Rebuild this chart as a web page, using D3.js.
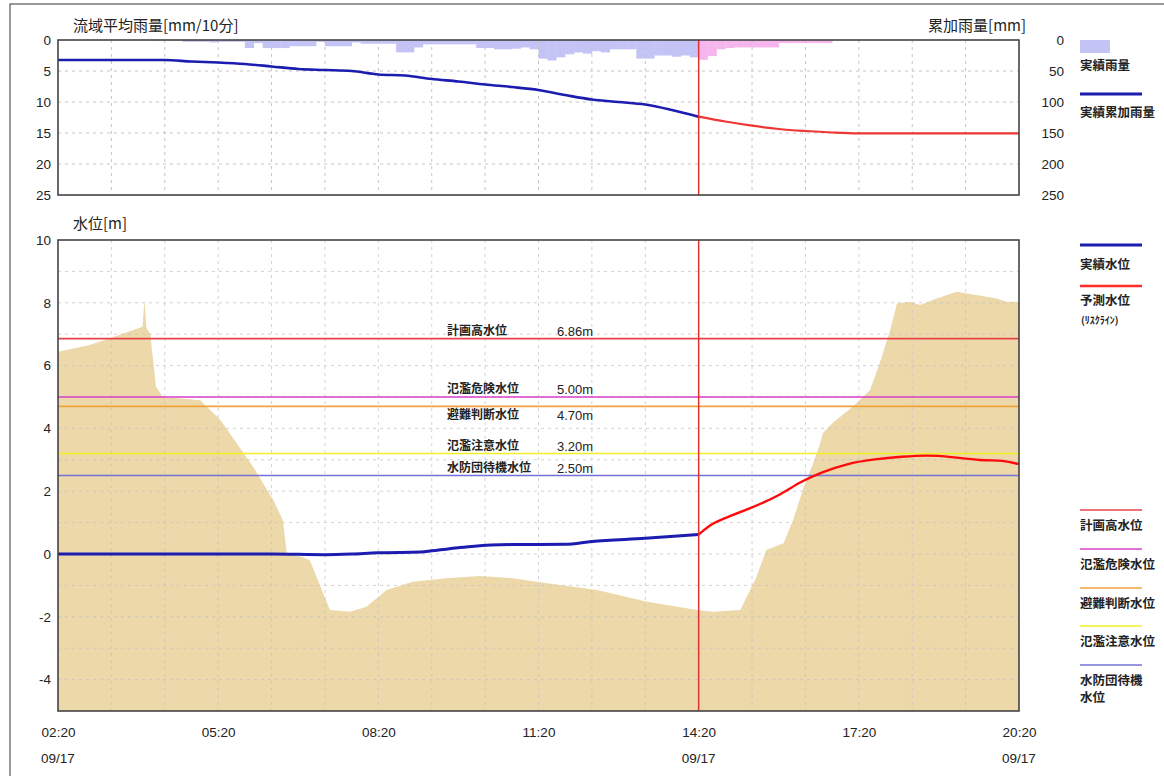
<!DOCTYPE html>
<html><head><meta charset="utf-8">
<script src="https://cdn.jsdelivr.net/npm/d3@7"></script>
<style>
body{margin:0;background:#fff;}
svg{display:block;}
</style></head>
<body>
<svg id="c" width="1164" height="776"></svg>
<script>
// ---- data ----
const timeLabels = ["02:20","05:20","08:20","11:20","14:20","17:20","20:20"];
const dateLabels = ["09/17","","","","09/17","","09/17"];
const labelHours = [0,3,6,9,12,15,18];
const nowHour = 12; // 14:20
// 10-minute basin average rainfall (mm/10min), observed 02:20-14:20
const rainObs = [0,0,0,0,0,0,0,0,0,0,0,0.1,0.1,0.1,
  0.3,0.3,0.3,0.4,0.3,0.3,0.3,1.3,0.5,1.3,1.3,1.3,1.0,1.0,1.0,0.3,
  1.0,1.0,1.0,0.4,0.6,0.6,0.6,0.6,2.0,2.0,1.2,0.7,0.7,0.7,0.7,0.7,0.7,
  1.3,1.3,1.5,1.5,1.4,1.2,1.5,3.0,3.3,2.8,2.3,2.0,2.2,1.8,2.0,
  1.5,1.5,1.5,3.0,3.0,2.5,2.5,2.7,2.5,2.8];
// forecast 14:20-20:20
const rainFcst = [3.2,2.6,1.5,1.3,1.2,1.2,1.2,1.2,1.2,0.5,0.5,0.5,0.5,0.5,0.5,
  0,0,0,0,0,0,0,0,0,0,0,0,0,0,0,0,0,0,0,0,0];
// cumulative rainfall (mm) every 30 minutes
const cumHours = [0,0.5,1,1.5,2,2.5,3,3.5,4,4.5,5,5.5,6,6.5,7,7.5,8,8.5,9,9.5,10,10.5,11,11.5,12,
  12.5,13,13.5,14,14.5,15,15.5,16,16.5,17,17.5,18];
const cumRain = [32.3,32.3,32.3,32.3,32.3,34.7,36.3,38.7,42.7,46.8,48.4,50,55.6,57.3,62.9,66.9,71.8,75.8,80.6,88.7,96,100,104,112.9,123.7,
  131.5,138.2,143.5,146.8,149.2,150.5,150.5,150.5,150.5,150.5,150.5,150.5];
// observed water level (m)
const obsHours = [0,1,2,3,4,5,5.5,6,6.8,7,7.5,7.8,8.5,9.5,10,11,12];
const obsLevel = [0,0,0,0,0,-0.02,0,0.04,0.06,0.1,0.2,0.25,0.3,0.31,0.4,0.5,0.62];
// forecast water level (m)
const fcHours = [12,12.25,12.5,13,13.5,13.9,14.3,14.8,15.3,15.8,16.3,16.7,17.3,17.7,18];
const fcLevel = [0.62,0.98,1.15,1.48,1.85,2.3,2.6,2.89,3.02,3.1,3.15,3.1,2.97,2.99,2.86];
// river cross-section (distance 0-100, elevation m)
const secDist = [0,3.3,5.4,8.8,9.0,9.2,9.6,10.2,10.9,14.8,16.9,20.3,22.4,23.4,23.8,25.2,26.2,28.3,30.4,32.1,34.2,36.9,40.4,43.9,47.3,50.9,56.1,61.3,66.5,68.2,71.0,72.7,73.7,75.5,76.5,77.5,78.6,79.3,79.6,80.6,82.7,84.5,85.5,86.6,87.3,88.7,89.7,91.0,93.5,94.6,97.7,98.7,100];
const secElev = [6.44,6.66,6.87,7.24,8.1,7.2,7.0,5.33,5.0,4.9,4.27,2.78,1.72,1.08,0.03,-0.08,-0.2,-1.78,-1.84,-1.68,-1.15,-0.88,-0.77,-0.7,-0.77,-0.93,-1.15,-1.52,-1.78,-1.84,-1.78,-0.72,0.13,0.34,1.08,2.04,2.9,3.52,3.85,4.17,4.69,5.22,6.07,7.13,7.98,8.03,7.93,8.09,8.35,8.3,8.14,8.03,8.03];
// reference water levels
const refNames = ["計画高水位","氾濫危険水位","避難判断水位","氾濫注意水位","水防団待機水位"];
const refValues = [6.86,5.00,4.70,3.20,2.50];
const refColors = ["#e8434b","#d940c8","#f0a23c","#f2f020","#7272d8"];
const refLegend = [["計画高水位"],["氾濫危険水位"],["避難判断水位"],["氾濫注意水位"],["水防団待機","水位"]];

// ---- drawing ----
const svg = d3.select("#c");
const L = 58, R = 1019;
const x = d3.scaleLinear().domain([0,18]).range([L,R]);
const yRain = d3.scaleLinear().domain([0,25]).range([40,195]);
const yCum = d3.scaleLinear().domain([0,250]).range([40,195]);
const yLvl = d3.scaleLinear().domain([-5,10]).range([711,240]);
const xSec = d3.scaleLinear().domain([0,100]).range([L,R]);
const numFont = "'Liberation Sans', Arial, sans-serif";
const jpFont = "'Noto Sans CJK JP', sans-serif";
const gridCol = "#c4c4c4";
const plainNum = d => String(d);

svg.append("rect").attr("width",1164).attr("height",776).attr("fill","#fff");
svg.append("rect").attr("x",10).attr("y",4).attr("width",1170).attr("height",790)
  .attr("fill","none").attr("stroke","#555").attr("stroke-width",1.2);

const defs = svg.append("defs");
defs.append("clipPath").attr("id","clipTop").append("rect").attr("x",L).attr("y",40).attr("width",R-L).attr("height",155);
defs.append("clipPath").attr("id","clipBot").append("rect").attr("x",L).attr("y",240).attr("width",R-L).attr("height",471);

// ===== top chart =====
const gTop = svg.append("g");
const gRain = gTop.append("g").attr("clip-path","url(#clipTop)");
gRain.selectAll("rect.obs").data(rainObs).join("rect")
  .attr("x",(d,i)=>x(i/6)).attr("y",yRain(0))
  .attr("width",(d,i)=>x((i+1)/6)-x(i/6)+0.3).attr("height",d=>yRain(d)-yRain(0))
  .attr("fill","#c3c3f5");
gRain.selectAll("rect.fc").data(rainFcst).join("rect")
  .attr("x",(d,i)=>x(nowHour+i/6)).attr("y",yRain(0))
  .attr("width",(d,i)=>x(nowHour+(i+1)/6)-x(nowHour+i/6)+0.3).attr("height",d=>yRain(d)-yRain(0))
  .attr("fill","#f5b6ee");
const gGridT = gTop.append("g").attr("stroke",gridCol).attr("stroke-dasharray","3,4").attr("stroke-width",1);
d3.range(1,18).forEach(h=>gGridT.append("line").attr("x1",x(h)).attr("x2",x(h)).attr("y1",40).attr("y2",195));
[5,10,15,20].forEach(v=>gGridT.append("line").attr("x1",L).attr("x2",R).attr("y1",yRain(v)).attr("y2",yRain(v)));
const cumPts = cumHours.map((h,i)=>[h,cumRain[i]]);
const cumLine = d3.line().x(d=>x(d[0])).y(d=>yCum(d[1])).curve(d3.curveMonotoneX);
gTop.append("path").datum(cumPts.filter(d=>d[0]<=nowHour)).attr("d",cumLine)
  .attr("fill","none").attr("stroke","#1c1cb0").attr("stroke-width",2.6);
gTop.append("path").datum(cumPts.filter(d=>d[0]>=nowHour)).attr("d",cumLine)
  .attr("fill","none").attr("stroke","#f03535").attr("stroke-width",2.2);
gTop.append("line").attr("x1",x(nowHour)).attr("x2",x(nowHour)).attr("y1",40).attr("y2",195)
  .attr("stroke","#e03030").attr("stroke-width",1.5);
gTop.append("rect").attr("x",L).attr("y",40).attr("width",R-L).attr("height",155)
  .attr("fill","none").attr("stroke","#444").attr("stroke-width",1.6);
const axL = gTop.append("g").attr("transform",`translate(${L},0)`)
  .call(d3.axisLeft(yRain).tickValues([0,5,10,15,20,25]).tickSize(0).tickPadding(7).tickFormat(plainNum));
const axR = gTop.append("g").attr("transform",`translate(1064,0)`)
  .call(d3.axisLeft(yCum).tickValues([0,50,100,150,200,250]).tickSize(0).tickPadding(0).tickFormat(plainNum));
[axL,axR].forEach(a=>{a.select(".domain").remove();
  a.selectAll("text").attr("font-family",numFont).attr("font-size",13.5).attr("fill","#222");});
gTop.append("text").attr("x",73).attr("y",31).text("流域平均雨量[mm/10分]")
  .attr("font-family",jpFont).attr("font-size",15).attr("fill","#222");
gTop.append("text").attr("x",1026).attr("y",31).attr("text-anchor","end").text("累加雨量[mm]")
  .attr("font-family",jpFont).attr("font-size",15).attr("fill","#222");

// ===== bottom chart =====
const gBot = svg.append("g");
const secPts = secDist.map((d,i)=>[d,secElev[i]]);
gBot.append("path").datum(secPts).attr("clip-path","url(#clipBot)")
  .attr("d",d3.area().x(d=>xSec(d[0])).y0(yLvl(-5)).y1(d=>yLvl(d[1])))
  .attr("fill","#ecd8a9");
const gGridB = gBot.append("g").attr("stroke",gridCol).attr("stroke-dasharray","3,4").attr("stroke-width",1).attr("opacity",0.75);
d3.range(1,18).forEach(h=>gGridB.append("line").attr("x1",x(h)).attr("x2",x(h)).attr("y1",240).attr("y2",711));
d3.range(-4,10).forEach(v=>gGridB.append("line").attr("x1",L).attr("x2",R).attr("y1",yLvl(v)).attr("y2",yLvl(v)));
refValues.forEach((v,i)=>{
  gBot.append("line").attr("x1",L).attr("x2",R).attr("y1",yLvl(v)).attr("y2",yLvl(v))
    .attr("stroke",refColors[i]).attr("stroke-width",1.6);
});
// label offsets: 避難判断水位 sits just below its line so it does not collide with 氾濫危険水位
const labelDy = [-4,-4,13,-4,-4];
refValues.forEach((v,i)=>{
  gBot.append("text").attr("x",447).attr("y",yLvl(v)+labelDy[i]).text(refNames[i])
    .attr("font-family",jpFont).attr("font-weight","bold").attr("font-size",12).attr("fill","#222");
  gBot.append("text").attr("x",557).attr("y",yLvl(v)+labelDy[i]+1).text(v.toFixed(2)+"m")
    .attr("font-family",numFont).attr("font-size",13).attr("fill","#222");
});
const lvlLine = d3.line().x(d=>x(d[0])).y(d=>yLvl(d[1])).curve(d3.curveMonotoneX);
gBot.append("path").datum(obsHours.map((h,i)=>[h,obsLevel[i]])).attr("d",lvlLine)
  .attr("fill","none").attr("stroke","#1c1cb0").attr("stroke-width",3);
gBot.append("path").datum(fcHours.map((h,i)=>[h,fcLevel[i]])).attr("d",lvlLine.curve(d3.curveBasis))
  .attr("fill","none").attr("stroke","#ff0a0a").attr("stroke-width",2.4);
gBot.append("line").attr("x1",x(nowHour)).attr("x2",x(nowHour)).attr("y1",240).attr("y2",711)
  .attr("stroke","#e03030").attr("stroke-width",1.5);
gBot.append("rect").attr("x",L).attr("y",240).attr("width",R-L).attr("height",471)
  .attr("fill","none").attr("stroke","#444").attr("stroke-width",1.6);
const axB = gBot.append("g").attr("transform",`translate(${L},0)`)
  .call(d3.axisLeft(yLvl).tickValues([-4,-2,0,2,4,6,8,10]).tickSize(0).tickPadding(7).tickFormat(plainNum));
axB.select(".domain").remove();
axB.selectAll("text").attr("font-family",numFont).attr("font-size",13.5).attr("fill","#222");
gBot.append("text").attr("x",73).attr("y",229).text("水位[m]")
  .attr("font-family",jpFont).attr("font-size",15).attr("fill","#222");
const axX = gBot.append("g").attr("transform","translate(0,727)")
  .call(d3.axisBottom(x).tickValues(labelHours).tickSize(0).tickPadding(0).tickFormat((d,i)=>timeLabels[i]));
axX.select(".domain").remove();
axX.selectAll("text").attr("font-family",numFont).attr("font-size",13.5).attr("fill","#222");
labelHours.forEach((h,i)=>{ if(dateLabels[i]) gBot.append("text").attr("x",x(h)).attr("y",763)
  .attr("text-anchor","middle").text(dateLabels[i]).attr("font-family",numFont).attr("font-size",13.5).attr("fill","#222");});

// ===== legends =====
const lg = svg.append("g").attr("font-family",jpFont).attr("font-weight","bold").attr("font-size",12.5).attr("fill","#222");
const lx = 1080, lw = 62;
lg.append("rect").attr("x",lx).attr("y",40).attr("width",30).attr("height",13).attr("fill","#c3c3f5");
lg.append("text").attr("x",lx).attr("y",70).text("実績雨量");
lg.append("line").attr("x1",lx).attr("x2",lx+lw).attr("y1",94).attr("y2",94).attr("stroke","#1c1cb0").attr("stroke-width",3);
lg.append("text").attr("x",lx).attr("y",117).text("実績累加雨量");
lg.append("line").attr("x1",lx).attr("x2",lx+lw).attr("y1",245).attr("y2",245).attr("stroke","#1c1cb0").attr("stroke-width",3);
lg.append("text").attr("x",lx).attr("y",269).text("実績水位");
lg.append("line").attr("x1",lx).attr("x2",lx+lw).attr("y1",286).attr("y2",286).attr("stroke","#ff2a2a").attr("stroke-width",2.4);
lg.append("text").attr("x",lx).attr("y",305).text("予測水位");
lg.append("text").attr("x",lx+1).attr("y",324).attr("font-size",10).text("(ﾘｽｸﾗｲﾝ)");
const refLegY = [510,549,588,626,665];
refLegY.forEach((yy,i)=>{
  lg.append("line").attr("x1",lx).attr("x2",lx+lw).attr("y1",yy).attr("y2",yy).attr("stroke",refColors[i]).attr("stroke-width",1.6);
  refLegend[i].forEach((t,k)=>lg.append("text").attr("x",lx).attr("y",yy+20+k*17).text(t));
});
</script>
</body></html>
